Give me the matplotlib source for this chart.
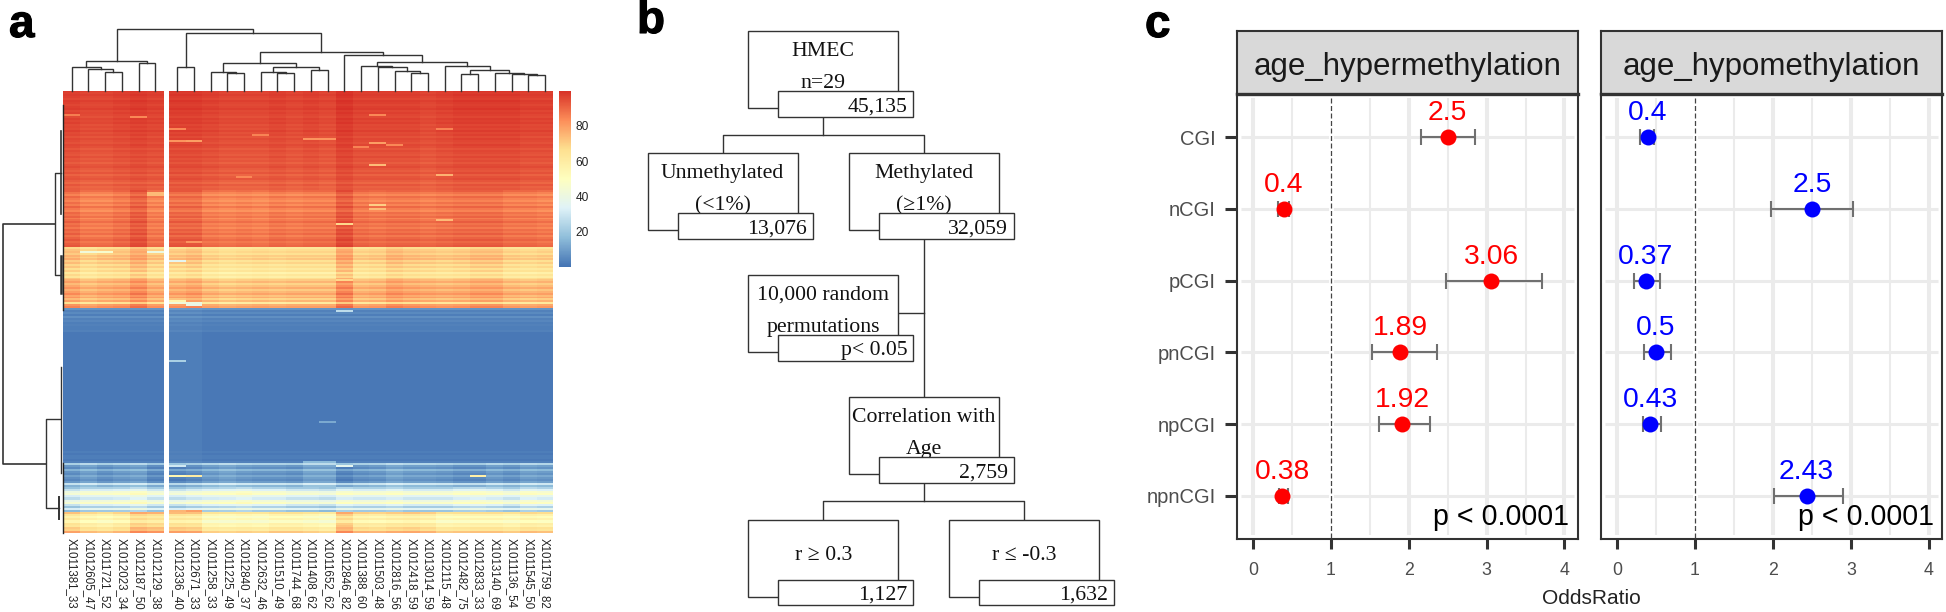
import numpy as np
import matplotlib
matplotlib.use('Agg')
import matplotlib.pyplot as plt
import matplotlib.patheffects as path_effects
from matplotlib.colors import LinearSegmentedColormap
from matplotlib.patches import Rectangle

plt.rcParams['font.family'] = ['Liberation Sans', 'DejaVu Sans']

# --- panel a data ---
samples = ['X1011381_33', 'X1012605_47', 'X1011721_52', 'X1012023_34', 'X1012187_50', 'X1012129_38',
           'X1012336_40', 'X1012671_33', 'X1011258_33', 'X1011225_49', 'X1012840_37', 'X1012632_46',
           'X1011510_49', 'X1011744_68', 'X1011408_62', 'X1011652_62', 'X1012846_82', 'X1011388_60',
           'X1011503_48', 'X1012816_56', 'X1012418_59', 'X1013014_59', 'X1012115_48', 'X1012482_75',
           'X1012833_33', 'X1013140_69', 'X1011136_54', 'X1011545_50', 'X1011759_82']

# estimated methylation per row, one list per horizontal band of the heatmap
rows_red = [98, 97, 98, 97, 96, 98, 97, 96, 97, 98, 96, 97, 96, 95, 97, 96, 97, 95, 96, 95, 97, 95, 96, 94, 96, 95,
            94, 96, 95, 93, 95, 94, 93, 95, 93, 94, 92, 94, 95, 93, 92, 94, 91, 93, 94, 92, 90, 93, 91, 92]
rows_orange = [92, 88, 85, 90, 87, 85, 89, 86, 91, 87, 85, 90, 88, 91, 86, 89, 92, 88, 90, 87, 91, 89, 92, 88, 91,
               93, 90, 92, 93]
rows_yellow = [66, 70, 72, 69, 74, 71, 75, 68, 72, 66, 70, 64, 68, 60, 66, 62, 70, 74, 78, 72, 76, 80, 74, 78, 82,
               76, 80, 72, 78, 64, 80, 83]
rows_blue = [7, 3, 5, 2, 6, 3, 4, 2, 3, 2, 2, 3] + [1] * 60 + [2, 1, 2, 2, 1, 3]
rows_lightblue = [22, 8, 5, 14, 7, 5, 10, 6, 4, 8, 28, 14]
rows_pale = [20, 30, 42, 46, 34, 28, 40, 46, 30, 20, 34, 18]
rows_cream = [66, 56, 50, 56, 48, 58, 56, 64, 62, 72]
row_bands = [rows_red, rows_orange, rows_yellow, rows_blue, rows_lightblue, rows_pale, rows_cream]

# how far each sample sits from its band, band by band
band_offsets = [
    [0, -1, -1, 0, 1, 0, 1, 1, 0, -1, -1, -1, 0, -1, 0, -1, 2, 0, 0, 0, 0, -1, 0, 1, 1, 1, 1, 0, 0],
    [0, -3, -3, -1, 3, -3, 1, 1, -3, -4, -3, -4, -2, -3, -2, -2, 4, -1, -2, -1, -1, -2, -1, 0, 0, 0, -2, -2, -3],
    [2, -2, 0, 1, 6, 0, 0, 2, -3, -5, -4, -3, -4, -3, -3, -3, 7, -2, -1, 3, 1, 0, -1, 0, 2, 2, -2, -3, -2],
    [0, 0, 0, 0, 0, 0, 1, 1, 0, 0, 0, 0, 0, 0, 0, 0, 0, 0, 0, 0, 0, 0, 0, 0, 0, 0, 0, 0, 0],
    [0, 3, 0, 2, 3, -2, -3, -1, 2, 4, 2, 1, 1, 0, 4, 4, -3, 0, 1, 4, 2, 2, 1, -1, -1, 2, 0, 3, 2],
    [-2, 2, 2, 3, 6, 0, -2, 1, 3, 4, 6, 3, 3, 0, 0, -2, 4, 2, 2, 4, 1, 1, 1, 4, 5, 3, 0, 5, 3],
    [7, 2, 0, 3, 12, 10, 8, 7, -2, -3, -2, -3, 0, 0, -2, -4, 12, 4, 3, 5, 6, 4, -1, 0, 1, 1, -1, 2, 1],
]
band_tops = [90.5, 190, 247, 308, 463, 487, 512, 533]

# single cells that stand out: y position on the figure, sample number, value
outlier_y = [116, 117, 116, 130, 141, 141, 140, 140, 135, 144, 146, 148, 129, 166, 176, 178, 220, 224, 204, 209, 192,
             195, 243, 280, 303, 304, 305, 262, 251, 251, 252, 361, 422, 466, 466, 476, 476, 476, 463, 463, 310, 302,
             512, 512, 513, 516, 525, 530]
outlier_col = [0, 4, 18, 6, 6, 7, 14, 15, 11, 18, 19, 17, 22, 18, 22, 10, 22, 16, 18, 18, 5,
               5, 7, 16, 6, 7, 7, 6, 1, 5, 2, 6, 15, 16, 6, 6, 7, 24, 14, 15, 16, 6,
               6, 7, 16, 16, 16, 16]
outlier_val = [86, 84, 84, 84, 82, 80, 82, 82, 85, 80, 84, 85, 85, 74, 76, 84, 74, 68, 70, 74, 74,
               74, 82, 68, 42, 40, 38, 36, 42, 40, 46, 22, 12, 36, 30, 55, 60, 58, 16, 16, 26, 55,
               75, 80, 78, 70, 72, 74]

# dendrogram over the columns: (height on the figure, left branch, right branch)
left_tree = (61, (67, 0, (69.3, 1, (72, 2, 3))), (62.7, 4, 5))
right_tree = (33.3, (67, 6, 7),
              (51.7,
               (63.3, (71.7, 8, (73, 9, 10)), (67, (72, 11, (73, 12, 13)), (70.3, 14, 15))),
               (55, 16,
                (61.7,
                 (66, 17, (67, 18, (70.7, 19, (73, 20, 21)))),
                 (65.7, 22, (69.7, (73.7, 23, 24), (73.3, 25, (74, 26, (75.3, 27, 28)))))))))
top_tree = (28.7, left_tree, right_tree)
tick_values = [20, 40, 60, 80]

# --- panel b data ---
flow_titles = [['HMEC', 'n=29'], ['Unmethylated', '(<1%)'], ['Methylated', '(≥1%)'],
               ['10,000 random', 'permutations'], ['Correlation with', 'Age'], ['r ≥ 0.3'], ['r ≤ -0.3']]
flow_counts = ['45,135', '13,076', '32,059', 'p< 0.05', '2,759', '1,127', '1,632']

# --- panel c data ---
regions = ['CGI', 'nCGI', 'pCGI', 'pnCGI', 'npCGI', 'npnCGI']
hyper_or = [2.5, 0.4, 3.06, 1.89, 1.92, 0.38]
hyper_low = [2.16, 0.32, 2.48, 1.53, 1.62, 0.33]
hyper_high = [2.85, 0.46, 3.71, 2.36, 2.27, 0.45]
hypo_or = [0.4, 2.5, 0.37, 0.5, 0.43, 2.43]
hypo_low = [0.29, 1.98, 0.22, 0.35, 0.33, 2.01]
hypo_high = [0.48, 3.03, 0.55, 0.69, 0.57, 2.90]

FIG_W, FIG_H = 1946, 612
LINE_COLOR = '#333333'


def px_axes(figure, left, top, right, bottom, **kwargs):
    return figure.add_axes([left / FIG_W, 1 - bottom / FIG_H, (right - left) / FIG_W, (bottom - top) / FIG_H], **kwargs)


def draw_tree(node, leaf_x, axes):
    # returns the x of the branch so that the parent can join it
    if not isinstance(node, tuple):
        return leaf_x[node], 90.5
    height, left, right = node
    x1, y1 = draw_tree(left, leaf_x, axes)
    x2, y2 = draw_tree(right, leaf_x, axes)
    axes.plot([x1, x1, x2, x2], [y1, height, height, y2], color=LINE_COLOR, lw=1.0, solid_joinstyle='miter')
    return (x1 + x2) / 2, height


figure = plt.figure(figsize=(FIG_W / 100, FIG_H / 100), dpi=100)
canvas = px_axes(figure, 0, 0, FIG_W, FIG_H)
canvas.set_xlim(0, FIG_W)
canvas.set_ylim(FIG_H, 0)
canvas.axis('off')

for letter, letter_x, letter_y in zip('abc', [9, 637, 1145], [37, 33, 37]):
    panel_letter = canvas.text(letter_x, letter_y, letter, fontsize=33, fontweight='bold', color='black', ha='left',
                               va='baseline')
    panel_letter.set_path_effects([path_effects.withStroke(linewidth=0.8, foreground='black')])

# ---------- panel a ----------
heat_cmap = LinearSegmentedColormap.from_list(
    'pheatmap', ['#4575B4', '#91BFDB', '#E0F3F8', '#FFFFBF', '#FEE090', '#FC8D59', '#D73027'], N=256)

row_edges = [band_tops[0]]
value_rows = []
for band, rows in enumerate(row_bands):
    row_edges += list(np.linspace(band_tops[band], band_tops[band + 1], len(rows) + 1)[1:])
    for row in rows:
        value_rows.append(np.array(row) + np.array(band_offsets[band]))
row_edges = np.array(row_edges)
heat_values = np.clip(np.array(value_rows, dtype=float), 0, 100)
for y, col, val in zip(outlier_y, outlier_col, outlier_val):
    heat_values[np.searchsorted(row_edges, y) - 1, col] = val

cell_width = 16.72
left_start = 63.3
right_start = 168.8
col_edges_left = left_start + cell_width * np.arange(7)
col_edges_right = right_start + cell_width * np.arange(24)
canvas.pcolormesh(col_edges_left, row_edges, heat_values[:, :6], cmap=heat_cmap, vmin=0, vmax=100, antialiased=False)
canvas.pcolormesh(col_edges_right, row_edges, heat_values[:, 6:], cmap=heat_cmap, vmin=0, vmax=100, antialiased=False)

leaf_positions = list(left_start + cell_width * (np.arange(6) + 0.5)) + list(right_start + cell_width * (np.arange(23) + 0.5))
draw_tree(top_tree, leaf_positions, canvas)
for label, label_x in zip(samples, leaf_positions):
    canvas.text(label_x, 538, label, rotation=270, fontsize=8.3, ha='center', va='top', color='#222222')

# row dendrogram, only the main branches can be made out
canvas.plot([55.4, 2.8, 2.8, 45.5], [224, 224, 464, 464], color=LINE_COLOR, lw=1.2)
canvas.plot([61.3, 55.4, 55.4, 60.5], [172.7, 172.7, 275, 275], color=LINE_COLOR, lw=1.0)
canvas.plot([60, 45.5, 45.5, 58.5], [419, 419, 508, 508], color=LINE_COLOR, lw=1.0)
canvas.plot([61.3, 61.3], [131, 214], color=LINE_COLOR, lw=1.2)
canvas.plot([60.5, 60.5], [255.7, 293], color=LINE_COLOR, lw=1.8)
canvas.plot([63, 63], [105, 310], color='#222222', lw=1.0)
canvas.plot([60.5, 60.5], [367, 473], color=LINE_COLOR, lw=1.0)
canvas.plot([58.5, 58.5], [497, 519], color=LINE_COLOR, lw=1.4)
canvas.plot([62.5, 62.5], [463, 533], color='#222222', lw=1.0)

colorbar_axes = px_axes(figure, 558.7, 90.5, 570.6, 267)
colorbar_axes.imshow(np.linspace(100, 0, 200).reshape(-1, 1), cmap=heat_cmap, aspect='auto', vmin=0, vmax=100,
                     extent=[0, 1, 0, 100])
colorbar_axes.set_xticks([])
colorbar_axes.yaxis.tick_right()
colorbar_axes.set_yticks(tick_values)
colorbar_axes.tick_params(axis='y', length=0, labelsize=8.6, pad=3.5, labelcolor='#222222')
for spine in colorbar_axes.spines.values():
    spine.set_visible(False)

# ---------- panel b ----------
box_lefts = [748.3, 647.7, 848.5, 748.3, 848.5, 748.3, 949.3]
box_tops = [30.8, 153, 153, 275, 397, 519.5, 519.5]
box_w, box_h = 150, 77.3
small_dx, small_dy, small_w, small_h = 30, 60.1, 135, 25.8
flow_font = dict(family='Liberation Serif', fontsize=15.7, color='#111111', va='baseline')

canvas.plot([823.3, 823.3], [116.7, 134.7], color=LINE_COLOR, lw=1.0)
canvas.plot([722.7, 722.7, 923.7, 923.7], [153, 134.7, 134.7, 153], color=LINE_COLOR, lw=1.0)
canvas.plot([923.7, 923.7], [238.9, 397], color=LINE_COLOR, lw=1.0)
canvas.plot([898.3, 923.7], [313.4, 313.4], color=LINE_COLOR, lw=1.0)
canvas.plot([923.7, 923.7], [483.2, 501.2], color=LINE_COLOR, lw=1.0)
canvas.plot([823.3, 823.3, 1024, 1024], [519.5, 501.2, 501.2, 519.5], color=LINE_COLOR, lw=1.0)

for title, count, left, top in zip(flow_titles, flow_counts, box_lefts, box_tops):
    canvas.add_patch(Rectangle((left, top), box_w, box_h, fc='white', ec=LINE_COLOR, lw=1.0, zorder=2))
    center = left + box_w / 2
    if len(title) == 2:
        canvas.text(center, top + 25, title[0], ha='center', zorder=3, **flow_font)
        canvas.text(center, top + 57, title[1], ha='center', zorder=3, **flow_font)
    else:
        canvas.text(center, top + 40.7, title[0], ha='center', zorder=3, **flow_font)
    canvas.add_patch(Rectangle((left + small_dx, top + small_dy), small_w, small_h, fc='white', ec=LINE_COLOR, lw=1.0,
                               zorder=4))
    canvas.text(left + small_dx + small_w - 6, top + small_dy + 20.3, count, ha='right', zorder=5, **flow_font)

# ---------- panel c ----------
panel_titles = ['age_hypermethylation', 'age_hypomethylation']
panel_lefts = [1237.3, 1601.3]
panel_rights = [1577.7, 1942.3]
panel_odds = [hyper_or, hypo_or]
panel_lows = [hyper_low, hypo_low]
panel_highs = [hyper_high, hypo_high]
panel_colors = ['red', 'blue']

for index in range(2):
    left, right = panel_lefts[index], panel_rights[index]
    axes = px_axes(figure, left, 94.3, right, 538.7)
    y_positions = np.arange(len(regions))
    axes.set_xlim(-0.2, 4.17)
    axes.set_ylim(5.6, -0.6)

    # grid stops a little short of the frame
    axes.vlines([0, 2, 3, 4], -0.55, 5.55, color='#ebebeb', lw=2.9, zorder=1)
    axes.vlines([0.5, 1.5, 2.5, 3.5], -0.55, 5.55, color='#ebebeb', lw=1.5, zorder=1)
    axes.hlines(y_positions, -0.15, 4.12, color='#ebebeb', lw=2.2, zorder=1)
    axes.axvline(1, color='white', lw=3.5, zorder=2)
    axes.vlines(1, -0.55, 5.6, color='#444444', lw=0.9, linestyles=(0, (4, 2)), zorder=3)

    low = np.array(panel_lows[index])
    high = np.array(panel_highs[index])
    odds = np.array(panel_odds[index])
    axes.errorbar(odds, y_positions, xerr=[odds - low, high - odds], fmt='none', ecolor='#707070', elinewidth=1.5,
                  capsize=6, capthick=1.5, zorder=4)
    axes.plot(odds, y_positions, 'o', color=panel_colors[index], ms=11.5, mew=0, zorder=5, linestyle='none')
    for value, y in zip(odds, y_positions):
        axes.annotate(str(value), (value, y), xytext=(0, 12.2), textcoords='offset points', ha='center',
                      va='baseline', fontsize=20.3, color=panel_colors[index], zorder=6)
    axes.text(4.06, 5.41, 'p < 0.0001', fontsize=20.6, ha='right', va='baseline', color='black', zorder=6)

    axes.set_xticks([0, 1, 2, 3, 4])
    axes.tick_params(axis='x', length=7.5, width=2.2, color=LINE_COLOR, labelsize=12.8, labelcolor='#4d4d4d', pad=9)
    if index == 0:
        axes.set_yticks(y_positions)
        axes.set_yticklabels(regions)
        axes.tick_params(axis='y', length=8.6, width=2.2, color=LINE_COLOR, labelsize=14.5, labelcolor='#4d4d4d', pad=7)
    else:
        axes.set_yticks([])
    for spine in axes.spines.values():
        spine.set_linewidth(1.5)
        spine.set_color(LINE_COLOR)

    strip = px_axes(figure, left, 31, right, 94.3)
    strip.set_facecolor('#d9d9d9')
    strip.set_xticks([])
    strip.set_yticks([])
    for spine in strip.spines.values():
        spine.set_linewidth(1.5)
        spine.set_color(LINE_COLOR)
    strip.spines['bottom'].set_linewidth(2.4)
    strip.text(0.5, 0.43, panel_titles[index], transform=strip.transAxes, fontsize=22.5, ha='center', va='center',
               color='#1a1a1a')

canvas.text(1591, 604, 'OddsRatio', fontsize=15, ha='center', va='baseline', color='#222222')

figure.savefig('out.png', dpi=100)
